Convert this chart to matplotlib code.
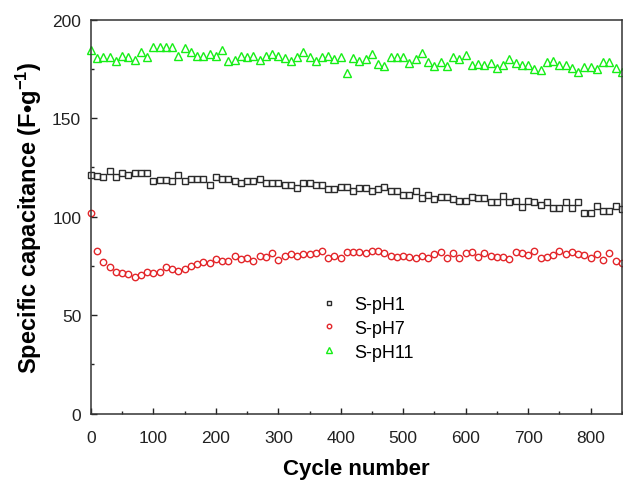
import numpy as np
import matplotlib
matplotlib.use("Agg")
import matplotlib.pyplot as plt

plt.rcParams["font.family"] = ["Liberation Sans", "DejaVu Sans"]
plt.rcParams["mathtext.fontset"] = "custom"
plt.rcParams["mathtext.rm"] = "Liberation Sans"
plt.rcParams["mathtext.bf"] = "Liberation Sans:bold"

# cycle numbers, one point every 10 cycles
cycles = np.arange(0, 851, 10)

s_ph1 = [121.1, 120.7, 119.9, 123.0, 119.9, 122.1, 121.1, 122.1, 122.1, 122.1,
         118.2, 118.7, 118.7, 118.2, 121.2, 118.2, 119.0, 119.0, 119.0, 116.2,
         120.2, 119.0, 119.0, 118.2, 117.3, 118.2, 118.2, 119.0, 117.3, 117.0,
         117.0, 116.2, 116.2, 114.8, 117.0, 117.0, 116.2, 116.2, 114.0, 114.0,
         115.1, 115.1, 113.1, 114.8, 114.8, 113.1, 114.0, 115.3, 113.1, 113.1,
         110.9, 110.9, 113.1, 109.4, 110.9, 109.2, 110.2, 110.2, 108.9, 108.0,
         108.0, 110.2, 109.4, 109.4, 107.2, 107.2, 110.6, 107.2, 108.0, 104.7,
         108.0, 107.2, 105.8, 107.2, 104.2, 104.2, 107.2, 104.2, 107.2, 102.1,
         102.1, 105.2, 103.0, 103.0, 105.2, 103.8]

s_ph7 = [102.0, 82.6, 77.2, 74.2, 72.1, 71.6, 70.8, 69.4, 70.3, 72.1,
         71.6, 72.1, 74.2, 73.6, 72.5, 73.6, 75.0, 76.2, 77.2, 76.7,
         78.7, 77.5, 77.5, 80.1, 78.7, 79.2, 77.5, 80.1, 79.7, 81.3,
         77.9, 80.1, 80.9, 80.1, 80.9, 80.9, 81.8, 82.6, 79.2, 80.1,
         79.2, 82.1, 82.1, 82.1, 81.8, 82.6, 82.6, 81.4, 80.1, 79.7,
         80.1, 79.7, 79.2, 80.1, 79.2, 80.9, 82.1, 79.2, 81.8, 79.2,
         81.8, 82.1, 79.6, 81.8, 80.1, 79.7, 79.7, 78.4, 82.1, 81.8,
         80.4, 82.6, 79.2, 79.7, 80.4, 82.6, 80.9, 82.1, 80.9, 80.4,
         79.2, 80.9, 78.0, 81.4, 77.5, 76.7]

s_ph11 = [184.7, 180.8, 181.0, 181.0, 178.8, 181.6, 181.0, 179.6, 183.7, 181.0,
          186.0, 186.0, 186.0, 186.0, 181.6, 185.5, 183.8, 181.6, 181.6, 182.5,
          181.6, 184.7, 179.0, 179.6, 181.6, 181.0, 181.6, 179.6, 181.6, 182.5,
          181.6, 180.3, 178.8, 181.0, 183.7, 181.0, 178.8, 181.0, 181.6, 180.0,
          181.0, 172.7, 180.3, 178.8, 180.0, 182.8, 177.4, 176.6, 181.0, 181.0,
          181.0, 177.8, 180.0, 183.0, 178.6, 176.6, 178.3, 176.6, 181.0, 180.0,
          182.0, 176.9, 177.4, 176.9, 177.9, 175.7, 176.9, 180.0, 177.8, 176.9,
          176.9, 174.9, 174.5, 178.3, 179.0, 176.9, 176.9, 175.7, 173.5, 176.0,
          176.0, 174.9, 178.3, 178.3, 175.7, 173.5]

fig = plt.figure(figsize=(6.23, 4.81), dpi=100)
ax = fig.add_axes([0.146, 0.138, 0.852, 0.819])

ax.plot(cycles, s_ph1, ls="none", marker="s", ms=4.3, mfc="none",
        mec="#2b2b2b", mew=1.0, label="S-pH1", clip_on=False)
ax.plot(cycles, s_ph7, ls="none", marker="o", ms=4.6, mfc="none",
        mec="#e3262a", mew=1.0, label="S-pH7", clip_on=False)
ax.plot(cycles, s_ph11, ls="none", marker="^", ms=5.2, mfc="none",
        mec="#16ee16", mew=1.0, label="S-pH11", clip_on=False)

ax.set_xlim(0, 850)
ax.set_ylim(0, 200)
ax.set_xticks(np.arange(0, 801, 100))
ax.set_xticks(np.arange(50, 851, 100), minor=True)
ax.set_yticks(np.arange(0, 201, 50))
ax.set_yticks(np.arange(25, 200, 50), minor=True)
ax.tick_params(which="both", direction="in", top=False, right=False,
               labelsize=12.5, colors="#222222")
ax.tick_params(axis="x", which="both", pad=12)
ax.tick_params(axis="y", which="both", pad=7)
ax.tick_params(which="major", length=4.5, width=1.0)
ax.tick_params(which="minor", length=2.2, width=1.0)
for sp in ax.spines.values():
    sp.set_linewidth(1.1)
    sp.set_color("#333333")

ax.set_xlabel("Cycle number", fontsize=16, fontweight="bold", labelpad=9)
ax.set_ylabel(r"Specific capacitance (F•g$\mathbf{^{-1}}$)", fontsize=17,
              fontweight="bold", labelpad=6)

ax.legend(loc="upper left", bbox_to_anchor=(0.39, 0.34), frameon=False,
          fontsize=13, markerscale=0.7, handletextpad=0.6,
          labelspacing=0.38, handlelength=1.6)

fig.savefig("out.png", dpi=100)
